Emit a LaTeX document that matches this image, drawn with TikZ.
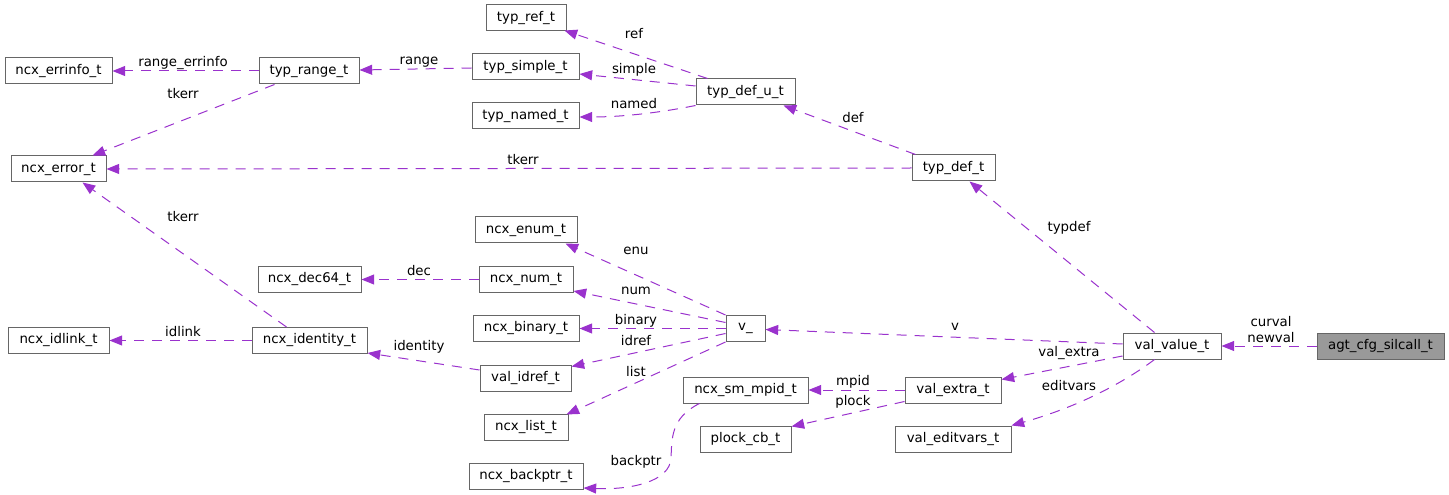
\documentclass[tikz,border=0pt]{standalone}
\usepackage{fontspec}
\setmainfont{DejaVu Sans}
\usetikzlibrary{arrows.meta,calc}
\definecolor{edgec}{HTML}{9A32CD}
\definecolor{boxc}{HTML}{666666}
\definecolor{rootc}{HTML}{999999}
\begin{document}
\begin{tikzpicture}[x=0.75pt,y=-0.75pt,
  cls/.style={draw=boxc, line width=0.75pt, fill=white, inner sep=0pt,
    minimum height=19.5pt, font=\fontsize{10}{12}\selectfont, text=black},
  rootcls/.style={cls, fill=rootc},
  w/.style={minimum width={#1*0.75pt}},
  rel/.style={draw=edgec, line width=0.75pt, dash pattern=on 7.5pt off 6pt,
    -{Triangle[length=9.5pt,width=7.5pt]}},
  lbl/.style={inner sep=0pt, font=\fontsize{10}{12}\selectfont, text=black, align=center}]
\useasboundingbox (0,0) rectangle (1449,495);

% nodes
\node[cls,w=107] (errinfo) at (58.5,71) {ncx\_errinfo\_t};
\node[cls,w=100] (range) at (309,71) {typ\_range\_t};
\node[cls,w=95] (error) at (58.5,169) {ncx\_error\_t};
\node[cls,w=103] (dec64) at (309.5,279.5) {ncx\_dec64\_t};
\node[cls,w=101] (idlink) at (58.5,340.5) {ncx\_idlink\_t};
\node[cls,w=115] (identity) at (309.5,340.5) {ncx\_identity\_t};
\node[cls,w=80] (ref) at (526,18) {typ\_ref\_t};
\node[cls,w=107] (simple) at (525.5,67) {typ\_simple\_t};
\node[cls,w=107] (named) at (525.5,116) {typ\_named\_t};
\node[cls,w=102] (enum) at (526,230) {ncx\_enum\_t};
\node[cls,w=94] (num) at (526,279.5) {ncx\_num\_t};
\node[cls,w=106] (binary) at (526,328.5) {ncx\_binary\_t};
\node[cls,w=91] (idref) at (525.5,378) {val\_idref\_t};
\node[cls,w=84] (list) at (526,427) {ncx\_list\_t};
\node[cls,w=114] (backptr) at (526,476.5) {ncx\_backptr\_t};
\node[cls,w=99] (defu) at (745.5,92) {typ\_def\_u\_t};
\node[cls,w=39] (v) at (745.5,328.5) {v\_};
\node[cls,w=125] (mpid) at (745.5,390) {ncx\_sm\_mpid\_t};
\node[cls,w=91] (plock) at (745.5,439) {plock\_cb\_t};
\node[cls,w=83] (deft) at (953.5,168) {typ\_def\_t};
\node[cls,w=96] (extra) at (953,390) {val\_extra\_t};
\node[cls,w=116] (editvars) at (953,439) {val\_editvars\_t};
\node[cls,w=98] (value) at (1172,346) {val\_value\_t};
\node[rootcls,w=127] (agt) at (1380.5,346) {agt\_cfg\_silcall\_t};

% edges
\draw[rel] (range.west) -- (errinfo.east);
\draw[rel] ($(range.south west)+(16,0)$) -- ($(error.north east)+(-14,0)$);
\draw[rel] ($(simple.west)+(0,1)$) -- ($(range.east)+(0,-1)$);
\draw[rel] ($(defu.north west)+(12,0)$) -- ($(ref.south east)+(-2,-1)$);
\draw[rel] ($(defu.west)+(0,-6)$) -- ($(simple.east)+(0,7)$);
\draw[rel] (defu.south west) .. controls +(-40,8) and +(40,0) .. ($(named.east)+(0,1)$);
\draw[rel] ($(deft.north west)+(4,0)$) -- ($(defu.south east)+(-12,0)$);
\draw[rel] (deft.west) -- (error.east);
\draw[rel] ($(value.north west)+(32,0)$) -- ($(deft.south west)+(58,0)$);
\draw[rel] ($(identity.north west)+(35,0)$) -- ($(error.south west)+(72,0)$);
\draw[rel] (identity.west) -- (idlink.east);
\draw[rel] (num.west) -- (dec64.east);
\draw[rel] ($(idref.west)+(0,-8)$) -- ($(identity.south east)+(0,-1)$);
\draw[rel] (v.north west) -- ($(enum.south east)+(-12,0)$);
\draw[rel] ($(v.west)+(0,-6)$) -- ($(num.south east)+(0,-2)$);
\draw[rel] (v.west) -- (binary.east);
\draw[rel] ($(v.west)+(0,5)$) -- ($(idref.north east)+(0,2)$);
\draw[rel] (v.south west) -- ($(list.north east)+(-2,1)$);
\draw[rel] ($(value.west)+(0,-2)$) -- ($(v.east)+(0,1)$);
\draw[rel] ($(value.west)+(0,10)$) -- ($(extra.north east)+(0,3)$);
\draw[rel] ($(value.south west)+(32,0)$) .. controls (1130,378) and (1085,405) .. (editvars.north east);
\draw[rel] (extra.west) -- (mpid.east);
\draw[rel] ($(extra.south west)+(0,-2)$) -- ($(plock.north east)+(0,1)$);
\draw[rel] ($(mpid.south west)+(17,0)$) .. controls (670,418) and (672,440) .. (671,458)
  .. controls (670,482) and (630,490) .. ($(backptr.south east)+(0,-2)$);
\draw[rel] (agt.west) -- (value.east);

% labels
\node[lbl] (l1) at (183,63) {range\_errinfo};
\node[lbl] (l2) at (183,94) {tkerr};
\node[lbl] (l3) at (419,62) {range};
\node[lbl] (l4) at (634,34) {ref};
\node[lbl] (l5) at (634,70) {simple};
\node[lbl] (l6) at (634,104) {named};
\node[lbl] (l7) at (853,118) {def};
\node[lbl] (l8) at (523,160) {tkerr};
\node[lbl] (l9) at (1069,228) {typdef};
\node[lbl] (l10) at (183,217) {tkerr};
\node[lbl] (l11) at (183,332) {idlink};
\node[lbl] (l12) at (419,271) {dec};
\node[lbl] (l13) at (419,347) {identity};
\node[lbl] (l14) at (636,251) {enu};
\node[lbl] (l15) at (636,291) {num};
\node[lbl] (l16) at (636,321) {binary};
\node[lbl] (l17) at (636,341) {idref};
\node[lbl] (l18) at (636,372) {list};
\node[lbl] (l19) at (636,462) {backptr};
\node[lbl] (l20) at (853,382) {mpid};
\node[lbl] (l21) at (853,402) {plock};
\node[lbl] (l22) at (955,327) {v};
\node[lbl] (l23) at (1069,353) {val\_extra};
\node[lbl] (l24) at (1069,386) {editvars};
\node[lbl] (l25) at (1271,330) {curval\\newval};
\end{tikzpicture}
\end{document}
